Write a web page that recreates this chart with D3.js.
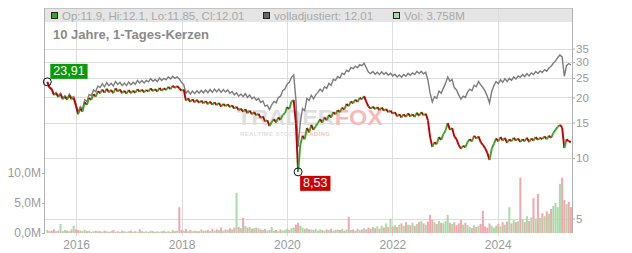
<!DOCTYPE html>
<html>
<head>
<meta charset="utf-8">
<script src="https://cdn.jsdelivr.net/npm/d3@7"></script>
<style>
  body { margin: 0; background: #fff; }
  text { font-family: "Liberation Sans", Arial, sans-serif; }
</style>
</head>
<body>
<svg id="chart" width="632" height="253"></svg>
<script>
// half-monthly closes, June 2015 .. May 2025
let closes = [
  23.91, 22.4, 22.0, 20.6, 21.0, 20.1, 20.8, 19.6, 20.2, 19.5, 20.5, 19.6,
  19.9, 18.2, 16.5, 17.6, 17.0, 18.9, 18.4, 19.9, 19.5, 20.8, 20.2, 21.5,
  21.0, 21.9, 21.1, 22.1, 21.2, 21.8, 21.0, 22.2, 21.4, 21.9, 21.0, 21.6,
  20.9, 21.8, 21.0, 21.6, 21.1, 22.0, 21.3, 21.9, 21.2, 21.8, 21.4, 22.2,
  21.5, 22.0, 21.4, 22.3, 21.6, 22.2, 21.8, 22.6, 22.0, 22.9, 22.3, 22.8,
  22.2, 21.6, 21.9, 19.3, 19.8, 19.0, 19.6, 18.9, 19.5, 18.8, 19.3, 18.7,
  19.2, 18.5, 19.1, 18.4, 18.9, 18.3, 18.8, 18.0, 18.6, 18.1, 18.5, 17.9,
  18.3, 17.6, 18.0, 17.3, 17.6, 17.0, 17.5, 16.7, 17.2, 16.5, 16.9, 16.3,
  16.6, 15.8, 16.1, 15.2, 15.4, 14.4, 15.1, 15.6, 15.0, 15.9, 15.5, 16.4,
  16.7, 17.9, 17.5, 19.1, 19.4, 14.8, 8.53, 11.6, 12.9, 12.4, 14.1, 13.4,
  14.6, 13.8, 14.4, 14.9, 15.6, 15.0, 15.9, 15.4, 16.4, 15.9, 16.9, 16.5,
  17.3, 16.9, 17.8, 17.4, 18.6, 18.1, 19.1, 18.7, 19.5, 19.0, 19.9, 19.6,
  20.3, 19.0, 18.0, 17.6, 18.0, 17.5, 17.9, 17.3, 17.8, 17.2, 17.5, 16.9,
  17.2, 16.6, 16.9, 16.1, 16.5, 15.9, 16.5, 16.0, 16.7, 16.1, 16.5, 16.0,
  16.8, 16.2, 16.9, 16.3, 16.6, 15.4, 12.7, 11.35, 12.0, 11.7, 12.7, 12.3,
  13.1, 13.7, 14.9, 13.8, 14.1, 12.8, 12.4, 11.6, 11.1, 11.5, 11.3, 12.0,
  12.4, 12.1, 12.9, 12.5, 12.8, 12.0, 11.6, 11.2, 10.6, 9.77, 11.1, 11.8,
  12.5, 12.1, 12.7, 12.2, 12.6, 11.9, 12.4, 12.1, 12.6, 12.2, 12.5, 12.0,
  12.4, 12.1, 12.6, 12.0, 12.5, 12.2, 12.7, 12.3, 12.6, 12.4, 12.8, 12.4,
  12.9, 12.6, 13.3, 13.8, 14.3, 14.6, 14.2, 11.2, 12.4, 12.1, 12.01
]

// "volladjustiert" line (grey)
let adjusted = [
  23.91, 22.5, 22.1, 20.7, 21.2, 20.3, 21.0, 19.8, 20.4, 19.7, 20.8, 19.9,
  20.2, 18.6, 16.9, 18.0, 17.5, 19.5, 19.1, 20.7, 20.4, 21.8, 21.4, 22.8,
  22.4, 23.4, 22.6, 23.7, 22.9, 23.5, 22.8, 24.0, 23.2, 23.8, 22.9, 23.6,
  22.9, 23.9, 23.1, 23.8, 23.3, 24.3, 23.6, 24.3, 23.6, 24.3, 23.9, 24.8,
  24.1, 24.6, 24.0, 25.0, 24.3, 24.9, 24.5, 25.3, 24.7, 25.5, 24.9, 25.3,
  24.7, 23.8, 23.2, 21.0, 21.6, 20.8, 21.5, 20.9, 21.6, 21.0, 21.7, 21.1,
  21.8, 21.1, 21.9, 21.2, 22.0, 21.3, 22.0, 21.2, 21.9, 21.3, 21.8, 21.0,
  21.4, 20.6, 21.1, 20.3, 20.8, 20.2, 20.9, 20.0, 20.6, 19.7, 20.1, 19.4,
  19.8, 18.9, 19.2, 18.1, 18.3, 17.4, 18.4, 19.1, 18.8, 20.0, 20.3, 21.6,
  22.0, 23.3, 23.8, 25.2, 25.9, 19.5, 11.35, 15.0, 17.6, 17.2, 19.8, 19.3,
  20.5, 19.7, 20.6, 21.2, 22.0, 21.4, 22.6, 22.2, 23.5, 23.0, 24.6, 24.3,
  25.4, 25.0, 26.4, 26.0, 27.3, 26.9, 28.2, 27.8, 28.6, 28.1, 29.1, 28.8,
  29.6, 28.1, 26.7, 26.3, 26.9, 26.1, 26.7, 26.0, 26.8, 26.1, 26.6, 25.8,
  26.4, 25.6, 26.1, 25.3, 25.9, 25.2, 26.0, 25.5, 26.4, 25.8, 26.5, 26.0,
  27.0, 26.3, 27.0, 26.2, 26.7, 24.4, 21.0, 19.0, 20.2, 19.8, 21.5, 21.0,
  22.2, 23.5, 25.3, 24.1, 24.6, 22.4, 21.8, 20.6, 19.6, 20.3, 20.0, 21.2,
  22.0, 21.6, 23.0, 22.6, 24.0, 23.1, 22.4, 21.5, 20.3, 18.8, 21.4, 22.9,
  24.0, 23.4, 24.5, 23.8, 24.8, 24.0, 24.9, 24.3, 25.3, 24.7, 25.6, 25.2,
  26.0, 25.4, 26.3, 25.6, 26.5, 26.0, 26.9, 26.3, 27.1, 26.6, 27.5, 27.0,
  28.0, 28.6, 29.6, 30.4, 31.6, 32.5, 31.8, 25.5, 28.8, 29.5, 29.0
]

// volume in millions
let volumes = [
  0.5, 0.3, 0.4, 0.6, 0.3, 0.4, 1.5, 0.3, 0.5, 0.4, 0.3, 0.6,
  1.2, 0.6, 0.5, 0.4, 0.3, 0.5, 0.3, 0.4, 0.2, 0.3, 0.4, 0.3,
  0.3, 0.2, 0.4, 0.3, 0.2, 0.3, 0.5, 0.2, 0.3, 0.2, 0.4, 0.3,
  0.2, 0.3, 0.4, 0.2, 0.3, 0.2, 0.6, 0.3, 0.2, 0.3, 0.2, 0.4,
  0.3, 0.2, 0.3, 0.2, 0.3, 0.4, 0.2, 0.3, 0.2, 0.5, 0.3, 0.4,
  4.3, 0.5, 0.4, 0.7, 0.3, 0.5, 0.3, 0.4, 0.3, 0.3, 0.6, 0.4,
  0.4, 0.5, 0.3, 0.7, 0.4, 0.6, 0.5, 0.9, 0.4, 0.6, 0.5, 0.8,
  0.6, 0.9, 6.7, 1.0, 0.8, 2.5, 1.2, 0.9, 1.0, 0.7, 0.8, 0.9,
  0.8, 0.6, 0.5, 0.7, 0.4, 0.5, 1.0, 0.4, 0.5, 0.3, 0.6, 0.4,
  0.5, 0.7, 0.5, 0.8, 0.9, 1.4, 1.7, 1.2, 0.9, 0.7, 0.8, 0.6,
  0.6, 0.5, 0.7, 0.4, 0.6, 0.5, 0.4, 0.6, 0.5, 0.7, 0.4, 0.5,
  0.6, 0.5, 0.7, 0.4, 0.6, 2.7, 0.5, 0.6, 0.4, 0.7, 0.5, 0.6,
  0.8, 0.6, 0.9, 0.7, 1.0, 0.8, 1.1, 0.7, 1.2, 0.9, 1.6, 1.0,
  2.4, 1.1, 1.3, 1.0, 1.4, 1.6, 1.2, 1.8, 1.4, 1.3, 1.7, 1.2,
  1.5, 1.8, 2.0, 1.6, 1.4, 1.9, 3.0, 2.2, 1.8, 1.5, 2.0, 1.7,
  1.6, 2.0, 3.0, 1.7, 1.5, 1.8, 1.3, 1.6, 2.2, 1.4, 1.7, 1.3,
  1.0, 0.8, 1.3, 1.0, 1.2, 1.5, 3.7, 1.1, 0.9, 1.6, 1.2, 0.9,
  1.2, 1.5, 1.1, 1.8, 1.4, 1.9, 4.3, 1.6, 2.2, 1.8, 2.0, 9.2,
  2.3, 1.8, 2.8, 2.0, 2.6, 5.8, 2.4, 6.5, 2.5, 3.3, 2.8, 3.6,
  3.2, 4.0, 4.5, 5.0, 4.3, 8.2, 9.2, 5.5, 4.8, 5.2, 4.3
]

let priceTicks = [5, 10, 15, 20, 25, 30, 35]
let volumeTicks = [0, 5, 10]
let yearTicks = [2016, 2018, 2020, 2022, 2024]

let startDate = new Date(2015, 5, 15)
let dates = closes.map((d, i) => d3.timeHour.offset(startDate, Math.round(i * 15.25 * 24)))

let svg = d3.select("#chart")

let plotLeft = 45, plotRight = 572, plotTop = 8, plotBottom = 233

let x = d3.scaleTime()
    .domain([new Date(2015, 4, 30), new Date(2025, 4, 30)])
    .range([plotLeft, plotRight])

let y = d3.scaleLog()
    .domain([5, 35])
    .range([218.5, 48.6])

let yVol = d3.scaleLinear()
    .domain([0, 10])
    .range([plotBottom, 173])

let gridColor = "#dcdcdc"
let labelColor = "#9a9a9a"

// header band
svg.append("rect")
    .attr("x", plotLeft).attr("y", plotTop)
    .attr("width", plotRight - plotLeft).attr("height", 14)
    .attr("fill", "#e5e5e5")

// grid
svg.append("g")
    .selectAll("line")
    .data(priceTicks)
    .join("line")
    .attr("x1", plotLeft).attr("x2", plotRight)
    .attr("y1", d => Math.round(y(d)) + 0.5)
    .attr("y2", d => Math.round(y(d)) + 0.5)
    .attr("stroke", gridColor)

svg.append("g")
    .selectAll("line")
    .data(yearTicks)
    .join("line")
    .attr("x1", d => Math.round(x(new Date(d, 0, 1))) + 0.5)
    .attr("x2", d => Math.round(x(new Date(d, 0, 1))) + 0.5)
    .attr("y1", plotTop).attr("y2", plotBottom + 3)
    .attr("stroke", gridColor)

// frame
svg.append("line")
    .attr("x1", plotLeft).attr("x2", plotRight)
    .attr("y1", plotTop + 0.5).attr("y2", plotTop + 0.5)
    .attr("stroke", "#c4c4c4")

// watermark
let wm = svg.append("g")
wm.append("text")
    .attr("x", 237).attr("y", 125)
    .attr("font-size", 22).attr("font-weight", "bold")
    .attr("textLength", 146).attr("lengthAdjust", "spacingAndGlyphs")
    .call(t => {
        t.append("tspan").attr("fill", "#dedede").text("TRADER")
        t.append("tspan").attr("fill", "#f6baba").text("FOX")
    })
wm.append("text")
    .attr("x", 240).attr("y", 135.5)
    .attr("font-size", 6).attr("font-weight", "bold")
    .attr("textLength", 90)
    .call(t => {
        t.append("tspan").attr("fill", "#e0e0e0").text("REALTIME STOCK ")
        t.append("tspan").attr("fill", "#f6c2c2").text("TRADING")
    })

let isUp = (i) => i === 0 ? true : closes[i] >= closes[i - 1]

// volume bars
svg.append("g")
    .selectAll("rect")
    .data(volumes)
    .join("rect")
    .attr("x", (d, i) => x(dates[i]) - 1)
    .attr("width", 2)
    .attr("y", d => yVol(d))
    .attr("height", d => plotBottom - yVol(d))
    .attr("fill", (d, i) => isUp(i) ? "#a6dca6" : "#f2a6ae")

// adjusted line
let line = d3.line()
    .x((d, i) => x(dates[i]))
    .y(d => y(d))

svg.append("path")
    .datum(adjusted)
    .attr("d", line)
    .attr("fill", "none")
    .attr("stroke", "#7c7c7c")
    .attr("stroke-width", 1.4)

// price segments, green up / red down
svg.append("g")
    .selectAll("line")
    .data(closes.slice(1))
    .join("line")
    .attr("x1", (d, i) => x(dates[i]))
    .attr("y1", (d, i) => y(closes[i]))
    .attr("x2", (d, i) => x(dates[i + 1]))
    .attr("y2", d => y(d))
    .attr("stroke", (d, i) => d >= closes[i] ? "#3aa32a" : "#c00000")
    .attr("stroke-width", 1.9)

// axes
let yAxisRight = d3.axisRight(y)
    .tickValues(priceTicks)
    .tickFormat(d3.format("d"))
    .tickSize(3)

svg.append("g")
    .attr("transform", `translate(${plotRight},0)`)
    .call(yAxisRight)
    .call(g => g.select(".domain").attr("d", `M0.5,${plotTop}V${plotBottom}`).attr("stroke", "#b0b0b0"))
    .call(g => g.selectAll(".tick line").attr("stroke", "#b0b0b0"))
    .call(g => g.selectAll("text").attr("fill", labelColor).attr("font-size", 11.5).attr("x", 4))

let yAxisLeft = d3.axisLeft(yVol)
    .tickValues(volumeTicks)
    .tickFormat(d => d.toFixed(1).replace(".", ",") + "M")
    .tickSize(3)

svg.append("g")
    .attr("transform", `translate(${plotLeft},0)`)
    .call(yAxisLeft)
    .call(g => g.select(".domain").attr("d", `M-0.5,${plotTop}V${plotBottom}`).attr("stroke", "#b0b0b0"))
    .call(g => g.selectAll(".tick line").attr("stroke", "#b0b0b0"))
    .call(g => g.selectAll("text").attr("fill", labelColor).attr("font-size", 12).attr("x", -4))

let xAxis = d3.axisBottom(x)
    .tickValues(yearTicks.map(d => new Date(d, 0, 1)))
    .tickFormat(d3.timeFormat("%Y"))
    .tickSize(0)

svg.append("g")
    .attr("transform", `translate(0,${plotBottom})`)
    .call(xAxis)
    .call(g => g.select(".domain").remove())
    .call(g => g.selectAll("text").attr("fill", labelColor).attr("font-size", 12).attr("dy", "1.05em"))

// header legend
let legendItems = [
    { x: 51, fill: "#3aa32a", label: "Op:11.9, Hi:12.1, Lo:11.85, Cl:12.01" },
    { x: 263, fill: "#666666", label: "volladjustiert: 12.01" },
    { x: 393, fill: "#a6dca6", label: "Vol: 3.758M" }
]

let legend = svg.append("g")
legend.selectAll("rect")
    .data(legendItems)
    .join("rect")
    .attr("x", d => d.x + 0.5).attr("y", 12.5)
    .attr("width", 6).attr("height", 6)
    .attr("fill", d => d.fill)
    .attr("stroke", "#222")
legend.selectAll("text")
    .data(legendItems)
    .join("text")
    .attr("x", d => d.x + 11).attr("y", 19.5)
    .attr("font-size", 11.5)
    .attr("fill", "#a8a8a8")
    .text(d => d.label)

svg.append("text")
    .attr("x", 53).attr("y", 39)
    .attr("font-size", 13).attr("font-weight", "bold")
    .attr("fill", "#8a8a8a")
    .text("10 Jahre, 1-Tages-Kerzen")

// start / low markers
let lowIndex = d3.minIndex(closes)
let markers = [
    { i: 0, bg: "#0a9a0a", dx: 3, dy: -18 },
    { i: lowIndex, bg: "#cc0000", dx: 2, dy: 4 }
]

markers.forEach(m => {
    let cx = x(dates[m.i]), cy = y(closes[m.i])
    svg.append("circle")
        .attr("cx", cx).attr("cy", cy).attr("r", 4)
        .attr("fill", "none").attr("stroke", "#111").attr("stroke-width", 1)
    let label = d3.format(".2f")(closes[m.i]).replace(".", ",")
    let g = svg.append("g").attr("transform", `translate(${cx + m.dx},${cy + m.dy})`)
    let t = g.append("text")
        .attr("x", 3).attr("y", 11)
        .attr("font-size", 12.5).attr("fill", "#fff")
        .text(label)
    let w = t.node().getComputedTextLength() + 6
    g.insert("rect", "text")
        .attr("width", w).attr("height", 15)
        .attr("fill", m.bg)
})
</script>
</body>
</html>
